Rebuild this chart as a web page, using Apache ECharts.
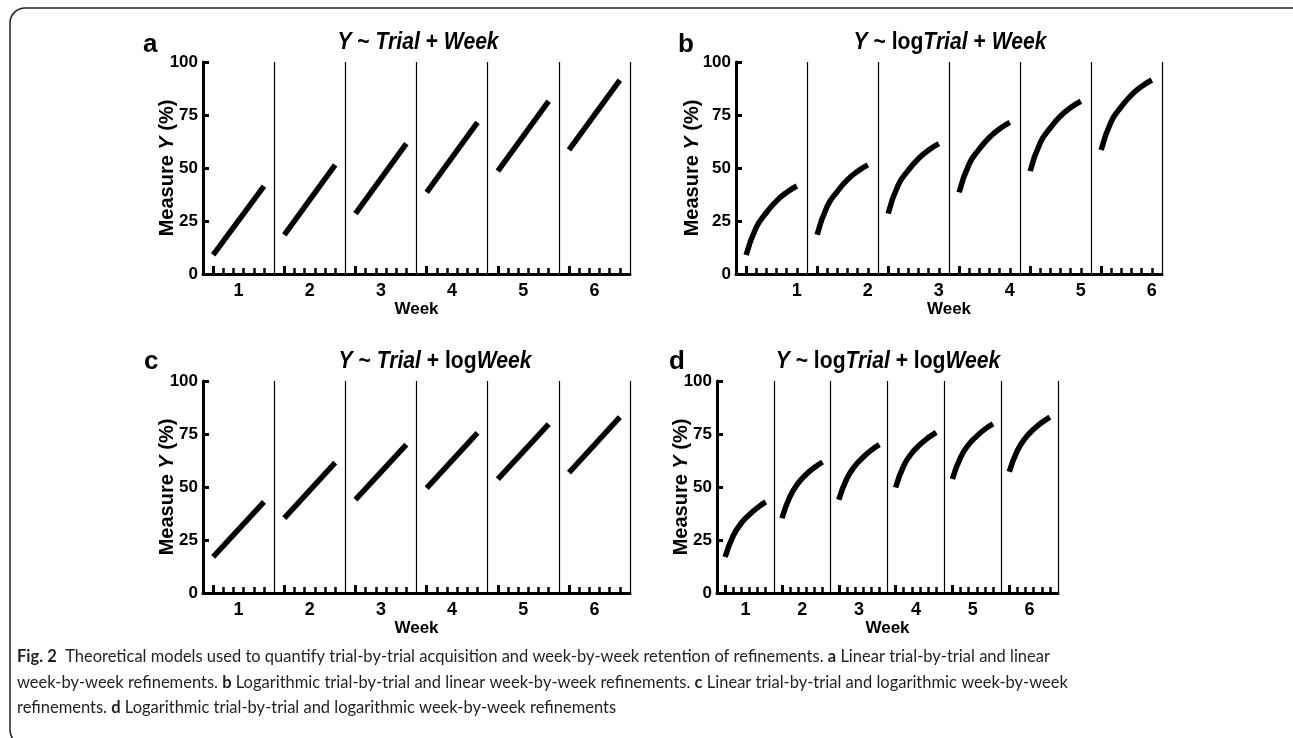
<!DOCTYPE html>
<html>
<head>
<meta charset="utf-8">
<script src="https://cdn.jsdelivr.net/npm/echarts@6/dist/echarts.min.js"></script>
<style>
html, body { margin: 0; padding: 0; background: #fff; }
#main { width: 1293px; height: 738px; }
</style>
</head>
<body>
<div id="main"></div>
<script>
// weeks and trials
var weeks = ['1', '2', '3', '4', '5', '6'];
var trials = [1, 2, 3, 4, 5, 6];
var yTicks = [0, 25, 50, 75, 100];

// a: linear trial, linear week (first and last trial of each week)
var aStart = [9, 18.5, 28.5, 38.5, 48.5, 58.5];
var aEnd = [41.5, 51.5, 61.5, 71.5, 81.5, 91.5];

// b: log trial, linear week (trials 1..6)
var bCurves = [
    [9, 22, 29, 34.5, 38.5, 41.5],
    [18.5, 32, 39, 44.5, 48.5, 51.5],
    [28.5, 42, 49, 54.5, 58.5, 61.5],
    [38.5, 52, 59, 64.5, 68.5, 71.5],
    [48.5, 62, 69, 74.5, 78.5, 81.5],
    [58.5, 72, 79, 84.5, 88.5, 91.5]
];

// c: linear trial, log week
var cStart = [17, 35.3, 44, 49.5, 53.7, 56.8];
var cEnd = [43, 61.5, 70, 75.5, 79.7, 83];

// d: log trial, log week
var dCurves = [
    [17, 27, 33, 37, 40.3, 43],
    [35.3, 45.6, 51.8, 56, 59.2, 61.8],
    [44, 54, 60, 64, 67.4, 70],
    [49.8, 60, 66, 70, 73.2, 75.8],
    [53.8, 64, 70, 74, 77.3, 79.8],
    [57.2, 67.2, 73.2, 77.2, 80.4, 83]
];

var weekLen = 7;
var sans = '"Liberation Sans", Arial, sans-serif';

var e = echarts.init(document.getElementById('main'));

var panels = [
    {letter: 'a', title: '{i|Y} ~ {i|Trial} + {i|Week}', grid: {left: 203, top: 62, width: 427, height: 212},
        titleX: 418, titleY: 30, letterX: 138, letterY: 27, yGap: 26, labelAt: 'mid'},
    {letter: 'b', title: '{i|Y} ~ log{i|Trial} + {i|Week}', grid: {left: 736, top: 62, width: 426, height: 212},
        titleX: 950, titleY: 30, letterX: 673, letterY: 27, yGap: 34, labelAt: 'end'},
    {letter: 'c', title: '{i|Y} ~ {i|Trial} + log{i|Week}', grid: {left: 203, top: 381, width: 427, height: 212},
        titleX: 435, titleY: 349, letterX: 139, letterY: 344, yGap: 26, labelAt: 'mid'},
    {letter: 'd', title: '{i|Y} ~ log{i|Trial} + log{i|Week}', grid: {left: 717, top: 381, width: 341, height: 212},
        titleX: 888, titleY: 349, letterX: 664, letterY: 344, yGap: 26, labelAt: 'mid'}
];

var tickVals = [], firstTicks = [], midVals = [], endVals = [], seps = [];
weeks.forEach(function (w, i) {
    trials.forEach(function (t) { tickVals.push(i * weekLen + t); });
    firstTicks.push(i * weekLen + trials[0]);
    midVals.push(i * weekLen + weekLen / 2);
    endVals.push(i * weekLen + trials[trials.length - 1]);
    seps.push((i + 1) * weekLen);
});

var titles = [], grids = [], xAxes = [], yAxes = [], series = [], graphics = [];

panels.forEach(function (p, k) {
    titles.push({
        text: p.letter, left: p.letterX, top: p.letterY,
        textStyle: {fontFamily: sans, fontWeight: 'bold', fontSize: 26, color: '#000'}
    });
    // panel heading, squeezed to look like a condensed face
    graphics.push({
        type: 'text', x: p.titleX, y: p.titleY, scaleX: 0.88, silent: true,
        style: {
            text: p.title, align: 'center', verticalAlign: 'top',
            fontFamily: sans, fontWeight: 'bold', fontSize: 24, fill: '#000',
            rich: {i: {fontFamily: sans, fontWeight: 'bold', fontStyle: 'italic', fontSize: 24, fill: '#000'}}
        }
    });
    grids.push(p.grid);
    xAxes.push({
        type: 'value', gridIndex: k, min: 0, max: weeks.length * weekLen,
        axisLine: {lineStyle: {color: '#000', width: 3}},
        axisTick: {inside: true, length: 6, lineStyle: {color: '#000', width: 2.5}, customValues: tickVals},
        axisLabel: {
            customValues: p.labelAt === 'end' ? endVals : midVals,
            formatter: function (v) { return weeks[Math.floor(v / weekLen)]; },
            margin: 8, color: '#000', fontFamily: sans, fontWeight: 'bold', fontSize: 18
        },
        splitLine: {show: false},
        name: 'Week', nameLocation: 'middle', nameGap: 27, nameMoveOverlap: false,
        nameTextStyle: {color: '#000', fontFamily: sans, fontWeight: 'bold', fontSize: 17}
    });
    // taller tick at the first trial of each week
    xAxes.push({
        type: 'value', gridIndex: k, min: 0, max: weeks.length * weekLen, position: 'bottom',
        axisLine: {show: false},
        axisTick: {inside: true, length: 8, lineStyle: {color: '#000', width: 3}, customValues: firstTicks},
        axisLabel: {show: false},
        splitLine: {show: false}
    });
    yAxes.push({
        type: 'value', gridIndex: k, min: 0, max: 100, interval: 25,
        axisLine: {show: true, lineStyle: {color: '#000', width: 3}},
        axisTick: {show: true, inside: true, length: 6, lineStyle: {color: '#000', width: 3}},
        axisLabel: {margin: 5, color: '#000', fontFamily: sans, fontWeight: 'bold', fontSize: 17},
        splitLine: {show: false},
        name: 'Measure {i|Y} (%)', nameLocation: 'middle', nameRotate: 90, nameGap: p.yGap,
        nameMoveOverlap: false,
        nameTextStyle: {
            color: '#000', fontFamily: sans, fontWeight: 'bold', fontSize: 20,
            rich: {i: {fontFamily: sans, fontWeight: 'bold', fontStyle: 'italic', fontSize: 20, color: '#000'}}
        }
    });
});

function addLines(k, weekVals, xs, smooth) {
    weekVals.forEach(function (vals, w) {
        var s = {
            type: 'line', xAxisIndex: k * 2, yAxisIndex: k, silent: true,
            symbol: 'none', smooth: smooth ? 0.5 : false,
            lineStyle: {color: '#000', width: 5.5, cap: 'butt', join: 'round'},
            data: vals.map(function (v, i) { return [w * weekLen + xs[i], v]; })
        };
        if (w === 0) {
            s.markLine = {
                silent: true, symbol: 'none', label: {show: false},
                lineStyle: {color: '#000', width: 1.2, type: 'solid'},
                data: seps.map(function (x) { return {xAxis: x}; })
            };
        }
        series.push(s);
    });
}

var ends = [trials[0], trials[trials.length - 1]];
addLines(0, aStart.map(function (v, i) { return [v, aEnd[i]]; }), ends, false);
addLines(1, bCurves, trials, true);
addLines(2, cStart.map(function (v, i) { return [v, cEnd[i]]; }), ends, false);
addLines(3, dCurves, trials, true);

// frame and caption
var capFont = 'Lato, "Open Sans", sans-serif';
var capRich = {b: {fontFamily: capFont, fontWeight: 'bold', fontSize: 16.5, fill: '#231f20'}};
var capLines = [
    '{b|Fig. 2}  Theoretical models used to quantify trial-by-trial acquisition and week-by-week retention of refinements. {b|a} Linear trial-by-trial and linear',
    'week-by-week refinements. {b|b} Logarithmic trial-by-trial and linear week-by-week refinements. {b|c} Linear trial-by-trial and logarithmic week-by-week',
    'refinements. {b|d} Logarithmic trial-by-trial and logarithmic week-by-week refinements'
];
var capY = [657, 683, 708];

graphics.push({
    type: 'rect', silent: true,
    shape: {x: 10, y: 8, width: 1300, height: 737, r: 15},
    style: {fill: 'none', stroke: '#231f20', lineWidth: 1.5}
});
capLines.forEach(function (t, i) {
    graphics.push({
        type: 'text', x: 17, y: capY[i], silent: true,
        style: {text: t, fontFamily: capFont, fontSize: 16.5, fill: '#231f20', verticalAlign: 'middle', rich: capRich}
    });
});

e.setOption({
    animation: false,
    backgroundColor: '#fff',
    title: titles,
    grid: grids,
    xAxis: xAxes,
    yAxis: yAxes,
    series: series,
    graphic: graphics
});
</script>
</body>
</html>
